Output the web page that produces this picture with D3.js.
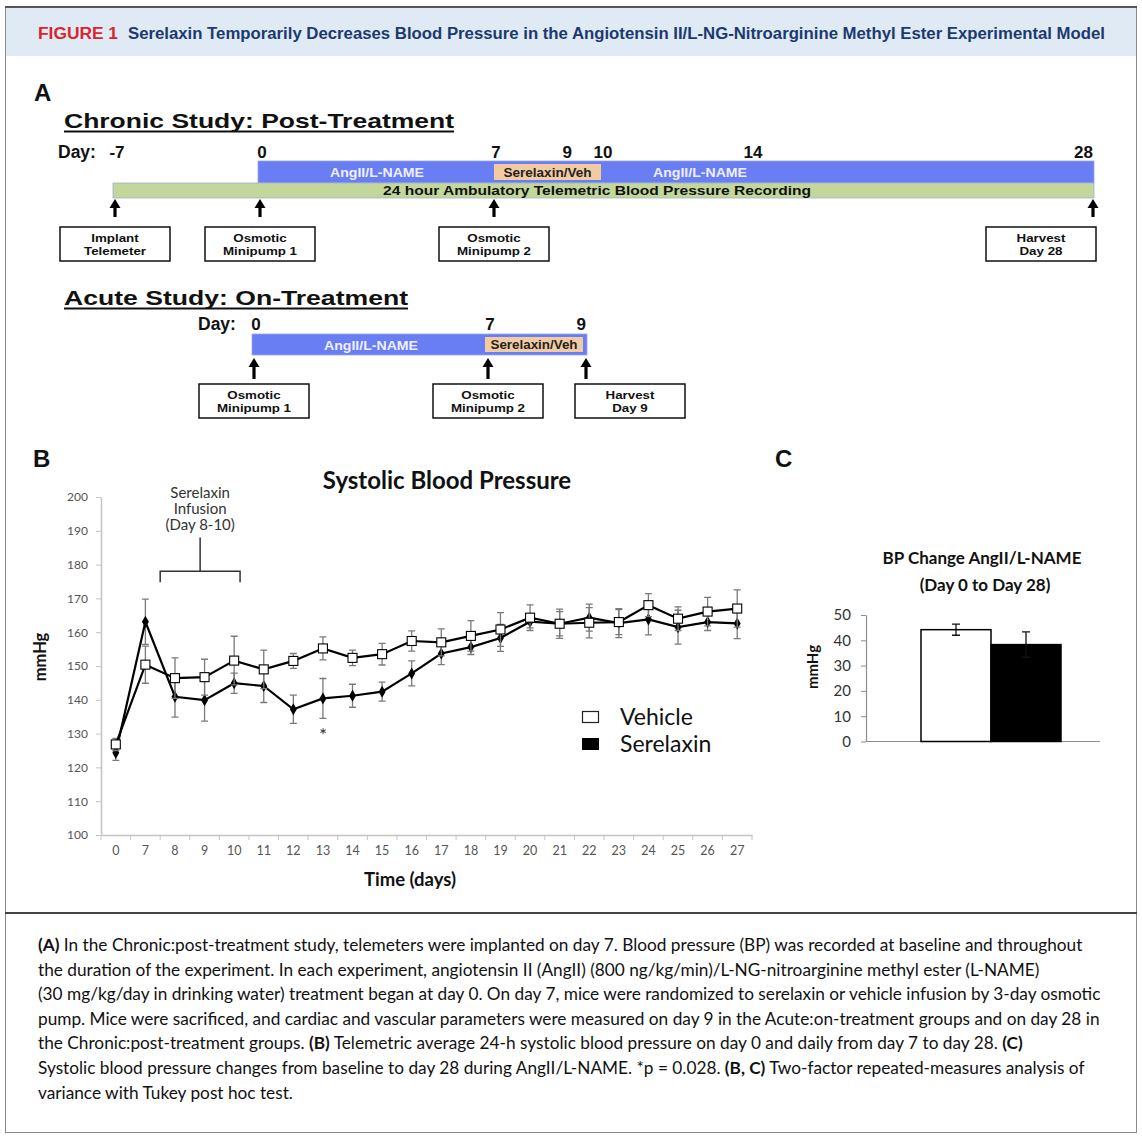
<!DOCTYPE html>
<html>
<head>
<meta charset="utf-8">
<script src="https://cdn.jsdelivr.net/npm/d3@7"></script>
<style>
  body { margin: 0; background: #fff; }
  svg { display: block; }
</style>
</head>
<body>
<svg width="1142" height="1138"></svg>
<script>
// ---- panel B data (systolic BP, mmHg)
var days = ["0","7","8","9","10","11","12","13","14","15","16","17","18","19","20","21","22","23","24","25","26","27"];
var vehicle = [126.8,150.4,146.4,146.7,151.6,149.0,151.5,155.2,152.4,153.5,157.4,157.0,158.9,160.8,164.3,162.5,162.8,163.0,168.0,164.0,166.1,167.0];
var vehicleErr = [1.8,5.5,6.0,5.3,7.2,5.7,2.2,3.4,2.3,3.2,3.0,4.0,4.5,5.0,3.8,3.6,4.5,3.7,3.4,3.5,4.2,5.5];
var serelaxin = [124.3,163.1,140.9,139.9,144.9,144.1,137.2,140.4,141.2,142.4,147.8,153.7,155.6,158.3,163.1,162.5,164.3,162.7,163.8,161.5,163.0,162.6];
var serelaxinErr = [2.2,6.7,6.0,6.2,3.0,4.9,4.2,5.9,3.4,2.8,3.7,3.3,2.2,4.0,1.8,4.3,4.0,4.3,4.6,5.0,2.5,4.5];
var yTicksB = [100,110,120,130,140,150,160,170,180,190,200];
var sigDays = ["13"];

// ---- panel C data (BP change day 0 to day 28)
var groups = ["Vehicle", "Serelaxin"];
var change = [44.2, 38.3];
var changeErr = [2.2, 5.0];
var yTicksC = [0,10,20,30,40,50];

// ---- panel A timeline
var chronicLabels = [-7, 0, 7, 9, 10, 14, 28];
var chronicEvents = [
  { day: -7, lines: ["Implant", "Telemeter"] },
  { day: 0, lines: ["Osmotic", "Minipump 1"] },
  { day: 7, lines: ["Osmotic", "Minipump 2"] },
  { day: 28, lines: ["Harvest", "Day 28"] }
];
var acuteLabels = [0, 7, 9];
var acuteEvents = [
  { day: 0, lines: ["Osmotic", "Minipump 1"] },
  { day: 7, lines: ["Osmotic", "Minipump 2"] },
  { day: 9, lines: ["Harvest", "Day 9"] }
];

var captionLines = [
  [["(A)", true], [" In the Chronic:post-treatment study, telemeters were implanted on day 7. Blood pressure (BP) was recorded at baseline and throughout", false]],
  [["the duration of the experiment. In each experiment, angiotensin II (AngII) (800 ng/kg/min)/L-NG-nitroarginine methyl ester (L-NAME)", false]],
  [["(30 mg/kg/day in drinking water) treatment began at day 0. On day 7, mice were randomized to serelaxin or vehicle infusion by 3-day osmotic", false]],
  [["pump. Mice were sacrificed, and cardiac and vascular parameters were measured on day 9 in the Acute:on-treatment groups and on day 28 in", false]],
  [["the Chronic:post-treatment groups. ", false], ["(B)", true], [" Telemetric average 24-h systolic blood pressure on day 0 and daily from day 7 to day 28. ", false], ["(C)", true]],
  [["Systolic blood pressure changes from baseline to day 28 during AngII/L-NAME. *p = 0.028. ", false], ["(B, C)", true], [" Two-factor repeated-measures analysis of", false]],
  [["variance with Tukey post hoc test.", false]]
];

var svg = d3.select("svg");
var ARIAL = "'Liberation Sans', Arial, sans-serif";
var CAL = "Lato, 'Open Sans', sans-serif";

// ---- frame and header
svg.append("rect").attr("x", 0).attr("y", 0).attr("width", 1142).attr("height", 1138).attr("fill", "#fff");
svg.append("rect").attr("x", 5.5).attr("y", 8).attr("width", 1131).attr("height", 48).attr("fill", "#dfeaf5");
svg.append("rect").attr("x", 5.5).attr("y", 7.5).attr("width", 1131).attr("height", 1125)
  .attr("fill", "none").attr("stroke", "#8a8a8a").attr("stroke-width", 1);
svg.append("line").attr("x1", 5).attr("x2", 1137).attr("y1", 7).attr("y2", 7)
  .attr("stroke", "#555").attr("stroke-width", 2);
svg.append("line").attr("x1", 5).attr("x2", 1137).attr("y1", 913).attr("y2", 913)
  .attr("stroke", "#444").attr("stroke-width", 2);

svg.append("text").attr("x", 38).attr("y", 38.5)
  .attr("font-family", ARIAL).attr("font-weight", "bold").attr("font-size", 16)
  .attr("fill", "#d7262e").attr("textLength", 80).attr("lengthAdjust", "spacingAndGlyphs")
  .text("FIGURE 1");
svg.append("text").attr("x", 128).attr("y", 38.5)
  .attr("font-family", ARIAL).attr("font-weight", "bold").attr("font-size", 16)
  .attr("fill", "#1c3a6e").attr("textLength", 977).attr("lengthAdjust", "spacingAndGlyphs")
  .text("Serelaxin Temporarily Decreases Blood Pressure in the Angiotensin II/L-NG-Nitroarginine Methyl Ester Experimental Model");

function panelLetter(t, x, y) {
  svg.append("text").attr("x", x).attr("y", y)
    .attr("font-family", ARIAL).attr("font-weight", "bold").attr("font-size", 24)
    .attr("fill", "#111").text(t);
}
panelLetter("A", 34, 101);
panelLetter("B", 33, 467);
panelLetter("C", 775, 467);

// ---- panel A
var BLUE = "#6a7ef3", PEACH = "#f3cba3", GREEN = "#c3d79b";

function studyTitle(t, x, y, w) {
  svg.append("text").attr("x", x).attr("y", y)
    .attr("font-family", ARIAL).attr("font-weight", "bold").attr("font-size", 21)
    .attr("fill", "#111").attr("textLength", w).attr("lengthAdjust", "spacingAndGlyphs").text(t);
  svg.append("line").attr("x1", x).attr("x2", x + w).attr("y1", y + 3.5).attr("y2", y + 3.5)
    .attr("stroke", "#111").attr("stroke-width", 2);
}

function arrowsAndBoxes(events, sx, y0, y1, boxTop, rightLimit) {
  var g = svg.append("g");
  var prevRight = -Infinity;
  events.forEach(function(ev) {
    var ax = sx(ev.day);
    g.append("line").attr("x1", ax).attr("x2", ax).attr("y1", y1).attr("y2", y0 + 6)
      .attr("stroke", "#000").attr("stroke-width", 3.2);
    g.append("path")
      .attr("d", "M" + (ax - 5.5) + "," + (y0 + 9) + "L" + (ax + 5.5) + "," + (y0 + 9) + "L" + ax + "," + y0 + "Z")
      .attr("fill", "#000");
    var w = 110, h = 34;
    var bx = Math.max(ax - w / 2, prevRight + 32);
    bx = Math.min(bx, rightLimit - w);
    prevRight = bx + w;
    g.append("rect").attr("x", bx).attr("y", boxTop).attr("width", w).attr("height", h)
      .attr("fill", "#fff").attr("stroke", "#111").attr("stroke-width", 1.5);
    ev.lines.forEach(function(l, i) {
      var t = g.append("text").attr("x", bx + w / 2).attr("y", boxTop + 14.5 + i * 13)
        .attr("text-anchor", "middle").attr("font-family", ARIAL).attr("font-weight", "bold")
        .attr("font-size", 11.5).attr("fill", "#111").text(l);
      var len = t.node().getComputedTextLength();
      if (len > 0) t.attr("textLength", len * 1.16).attr("lengthAdjust", "spacingAndGlyphs");
    });
  });
}

function dayLabels(labels, sx, y, dayX) {
  svg.append("text").attr("x", dayX).attr("y", y)
    .attr("font-family", ARIAL).attr("font-weight", "bold").attr("font-size", 17.5)
    .attr("fill", "#111").text("Day:");
  svg.append("g").selectAll("text").data(labels).join("text")
    .attr("x", function(d, i) { return i === labels.length - 1 ? sx(d) : sx(d) + 2; })
    .attr("y", y)
    .attr("text-anchor", function(d, i) { return i === labels.length - 1 ? "end" : "middle"; })
    .attr("font-family", ARIAL).attr("font-weight", "bold").attr("font-size", 17)
    .attr("fill", "#111").text(function(d) { return d; });
}

function barLabel(t, x, y, fill, size, w) {
  svg.append("text").attr("x", x).attr("y", y).attr("text-anchor", "middle")
    .attr("font-family", ARIAL).attr("font-weight", "bold").attr("font-size", size)
    .attr("textLength", w).attr("lengthAdjust", "spacingAndGlyphs")
    .attr("fill", fill).text(t);
}

// chronic study
var xc = d3.scaleLinear().domain([-7, 0, 7, 10, 14, 28]).range([115, 260, 494, 601, 751, 1093]);
studyTitle("Chronic Study: Post-Treatment", 64, 128, 390);
dayLabels(chronicLabels, xc, 158, 58);
svg.append("rect").attr("x", xc(0) - 2).attr("y", 161).attr("width", xc(28) - xc(0) + 3).attr("height", 22)
  .attr("fill", BLUE).attr("stroke", "#9aa6f0").attr("stroke-width", 0.8);
svg.append("rect").attr("x", xc(-7) - 2).attr("y", 183).attr("width", xc(28) - xc(-7) + 3).attr("height", 15)
  .attr("fill", GREEN).attr("stroke", "#9db0d8").attr("stroke-width", 0.8);
svg.append("rect").attr("x", xc(7)).attr("y", 164).attr("width", xc(10) - xc(7)).attr("height", 16)
  .attr("fill", PEACH);
barLabel("AngII/L-NAME", (xc(0) + xc(7)) / 2, 177, "#eef0ff", 12.5, 94);
barLabel("AngII/L-NAME", 700, 177, "#eef0ff", 12.5, 94);
barLabel("Serelaxin/Veh", (xc(7) + xc(10)) / 2, 176.5, "#222", 12, 88);
barLabel("24 hour Ambulatory Telemetric Blood Pressure Recording", 597, 195, "#111", 13, 428);
arrowsAndBoxes(chronicEvents, xc, 199, 217, 227, 1096);

// acute study
var xa = d3.scaleLinear().domain([0, 7, 9]).range([254, 488, 586]);
studyTitle("Acute Study: On-Treatment", 64, 305, 344);
dayLabels(acuteLabels, xa, 330, 198);
svg.append("rect").attr("x", xa(0) - 2).attr("y", 334).attr("width", xa(9) - xa(0) + 3).attr("height", 21)
  .attr("fill", BLUE).attr("stroke", "#9aa6f0").attr("stroke-width", 0.8);
svg.append("rect").attr("x", xa(7) - 3).attr("y", 337).attr("width", xa(9) - xa(7)).attr("height", 15)
  .attr("fill", PEACH);
barLabel("AngII/L-NAME", (xa(0) + xa(7)) / 2, 349.5, "#eef0ff", 12.5, 94);
barLabel("Serelaxin/Veh", (xa(7) + xa(9)) / 2 - 3, 349, "#222", 12, 87);
arrowsAndBoxes(acuteEvents, xa, 358, 379, 384, 2000);

// ---- panel B
var gb = svg.append("g");
var x = d3.scaleBand().domain(days).range([101, 752]);
var y = d3.scaleLinear().domain([100, 200]).range([835, 497]);
var cx = function(d) { return x(d) + x.bandwidth() / 2; };

var yAxis = gb.append("g").attr("transform", "translate(101,0)")
  .call(d3.axisLeft(y).tickValues(yTicksB).tickSize(5).tickSizeOuter(0).tickPadding(8));
yAxis.select(".domain").attr("stroke", "#c4c4c4").attr("stroke-width", 1.5);
yAxis.selectAll(".tick line").attr("stroke", "#c4c4c4");
yAxis.selectAll("text").attr("font-family", CAL).attr("font-size", 12).attr("fill", "#555");

var xAxis = gb.append("g").attr("transform", "translate(0,835)")
  .call(d3.axisBottom(x).tickSize(0).tickSizeOuter(0).tickPadding(11));
xAxis.select(".domain").attr("stroke", "#c4c4c4").attr("stroke-width", 1.5);
xAxis.selectAll("text").attr("font-family", CAL).attr("font-size", 12.5).attr("fill", "#555");
gb.append("g").selectAll("line").data(d3.range(days.length + 1)).join("line")
  .attr("x1", function(i) { return x.range()[0] + i * x.step(); })
  .attr("x2", function(i) { return x.range()[0] + i * x.step(); })
  .attr("y1", 835).attr("y2", 840).attr("stroke", "#c4c4c4");

gb.append("text").attr("x", 447).attr("y", 489).attr("text-anchor", "middle")
  .attr("font-family", CAL).attr("font-weight", "bold").attr("font-size", 24).attr("fill", "#111")
  .text("Systolic Blood Pressure");
gb.append("text").attr("x", 410).attr("y", 886).attr("text-anchor", "middle")
  .attr("font-family", CAL).attr("font-weight", "bold").attr("font-size", 18.5).attr("fill", "#111")
  .text("Time (days)");
gb.append("text").attr("transform", "translate(46,657) rotate(-90)").attr("text-anchor", "middle")
  .attr("font-family", CAL).attr("font-weight", "bold").attr("font-size", 16.5).attr("fill", "#111")
  .text("mmHg");

// infusion annotation
var brL = x("8"), brR = x("10") + x.bandwidth() * 0.7, brM = (brL + brR) / 2;
gb.append("path")
  .attr("d", "M" + brL + "," + y(174.8) + "V" + y(178) + "H" + brR + "V" + y(174.8) +
             "M" + brM + "," + y(178) + "V" + y(188))
  .attr("fill", "none").attr("stroke", "#333").attr("stroke-width", 1.5);
["Serelaxin", "Infusion", "(Day 8-10)"].forEach(function(t, i) {
  gb.append("text").attr("x", brM).attr("y", 498 + i * 16).attr("text-anchor", "middle")
    .attr("font-family", CAL).attr("font-size", 15).attr("fill", "#333").text(t);
});

function drawSeries(vals, errs, kind) {
  var g = gb.append("g");
  var pts = days.map(function(d, i) { return { d: d, v: vals[i], e: errs[i] }; });
  var eb = g.append("g").attr("stroke", "#7a7a7a").attr("stroke-width", 1.3);
  eb.selectAll("path").data(pts).join("path")
    .attr("d", function(p) {
      var c = cx(p.d), t = y(p.v + p.e), b = y(p.v - p.e);
      return "M" + c + "," + t + "V" + b + "M" + (c - 3.5) + "," + t + "H" + (c + 3.5) +
             "M" + (c - 3.5) + "," + b + "H" + (c + 3.5);
    }).attr("fill", "none");
  g.append("path").datum(pts)
    .attr("d", d3.line().x(function(p) { return cx(p.d); }).y(function(p) { return y(p.v); }))
    .attr("fill", "none").attr("stroke", "#000").attr("stroke-width", 2.2);
  if (kind === "square") {
    g.selectAll("rect").data(pts).join("rect")
      .attr("x", function(p) { return cx(p.d) - 4.5; }).attr("y", function(p) { return y(p.v) - 4.5; })
      .attr("width", 9).attr("height", 9).attr("fill", "#fff").attr("stroke", "#000").attr("stroke-width", 1.1);
  } else {
    g.selectAll(".mk").data(pts).join("path").attr("class", "mk")
      .attr("transform", function(p) { return "translate(" + cx(p.d) + "," + y(p.v) + ")"; })
      .attr("d", d3.symbol().type(d3.symbolDiamond).size(42)).attr("fill", "#000");
  }
}
drawSeries(serelaxin, serelaxinErr, "diamond");
drawSeries(vehicle, vehicleErr, "square");

gb.selectAll(".sig").data(sigDays).join("text").attr("class", "sig")
  .attr("x", function(d) { return cx(d); })
  .attr("y", function(d) { return y(serelaxin[days.indexOf(d)] - serelaxinErr[days.indexOf(d)]) + 24; })
  .attr("text-anchor", "middle").attr("font-family", CAL).attr("font-size", 19).attr("fill", "#333")
  .text("*");

// legend
var lg = gb.append("g");
lg.append("rect").attr("x", 582.5).attr("y", 711.5).attr("width", 16).attr("height", 11)
  .attr("fill", "#fff").attr("stroke", "#222").attr("stroke-width", 1.2);
lg.append("rect").attr("x", 582).attr("y", 738).attr("width", 17).attr("height", 12).attr("fill", "#000");
lg.append("text").attr("x", 620).attr("y", 724.5).attr("font-family", CAL).attr("font-size", 23)
  .attr("fill", "#111").text("Vehicle");
lg.append("text").attr("x", 620).attr("y", 751.5).attr("font-family", CAL).attr("font-size", 23)
  .attr("fill", "#111").text("Serelaxin");

// ---- panel C
var gc = svg.append("g");
var xC = d3.scaleBand().domain(groups).range([921, 1061]);
var yC = d3.scaleLinear().domain([0, 50]).range([741.5, 615]);

gc.append("text").attr("x", 982).attr("y", 564).attr("text-anchor", "middle")
  .attr("font-family", CAL).attr("font-weight", "bold").attr("font-size", 17).attr("fill", "#111")
  .text("BP Change AngII/L-NAME");
gc.append("text").attr("x", 985).attr("y", 591).attr("text-anchor", "middle")
  .attr("font-family", CAL).attr("font-weight", "bold").attr("font-size", 17).attr("fill", "#111")
  .text("(Day 0 to Day 28)");
gc.append("text").attr("transform", "translate(818,667) rotate(-90)").attr("text-anchor", "middle")
  .attr("font-family", CAL).attr("font-weight", "bold").attr("font-size", 15).attr("fill", "#111")
  .text("mmHg");

var yAxC = gc.append("g").attr("transform", "translate(866,0)")
  .call(d3.axisLeft(yC).tickValues(yTicksC).tickSize(5).tickSizeOuter(0).tickPadding(10));
yAxC.select(".domain").attr("stroke", "#8c8c8c").attr("stroke-width", 1.2);
yAxC.selectAll(".tick line").attr("stroke", "#8c8c8c");
yAxC.selectAll("text").attr("font-family", CAL).attr("font-size", 15).attr("fill", "#333");
gc.append("line").attr("x1", 866).attr("x2", 1100).attr("y1", yC(0)).attr("y2", yC(0))
  .attr("stroke", "#8c8c8c").attr("stroke-width", 1.2);

gc.selectAll(".bar").data(groups).join("rect").attr("class", "bar")
  .attr("x", function(d) { return xC(d); })
  .attr("y", function(d, i) { return yC(change[i]); })
  .attr("width", xC.bandwidth())
  .attr("height", function(d, i) { return yC(0) - yC(change[i]); })
  .attr("fill", function(d, i) { return i === 0 ? "#fff" : "#000"; })
  .attr("stroke", "#000").attr("stroke-width", 1.5);
gc.selectAll(".err").data(groups).join("path").attr("class", "err")
  .attr("d", function(d, i) {
    var c = xC(d) + xC.bandwidth() / 2, t = yC(change[i] + changeErr[i]), b = yC(change[i] - changeErr[i]);
    return "M" + c + "," + t + "V" + b + "M" + (c - 4) + "," + t + "H" + (c + 4) +
           "M" + (c - 4) + "," + b + "H" + (c + 4);
  })
  .attr("fill", "none").attr("stroke", "#111").attr("stroke-width", 1.3);

// ---- caption (font size fitted so the first line spans like the original)
var cap = svg.append("g").attr("font-family", CAL).attr("font-size", 15.5).attr("fill", "#111");
var capTexts = captionLines.map(function(segs, i) {
  var t = cap.append("text").attr("x", 38).attr("y", 951 + i * 24.6);
  segs.forEach(function(s) {
    t.append("tspan").attr("font-weight", s[1] ? "bold" : "normal").text(s[0]);
  });
  return t;
});
var w0 = capTexts[0].node().getComputedTextLength();
if (w0 > 0) cap.attr("font-size", 15.5 * 1045 / w0);
</script>
</body>
</html>
